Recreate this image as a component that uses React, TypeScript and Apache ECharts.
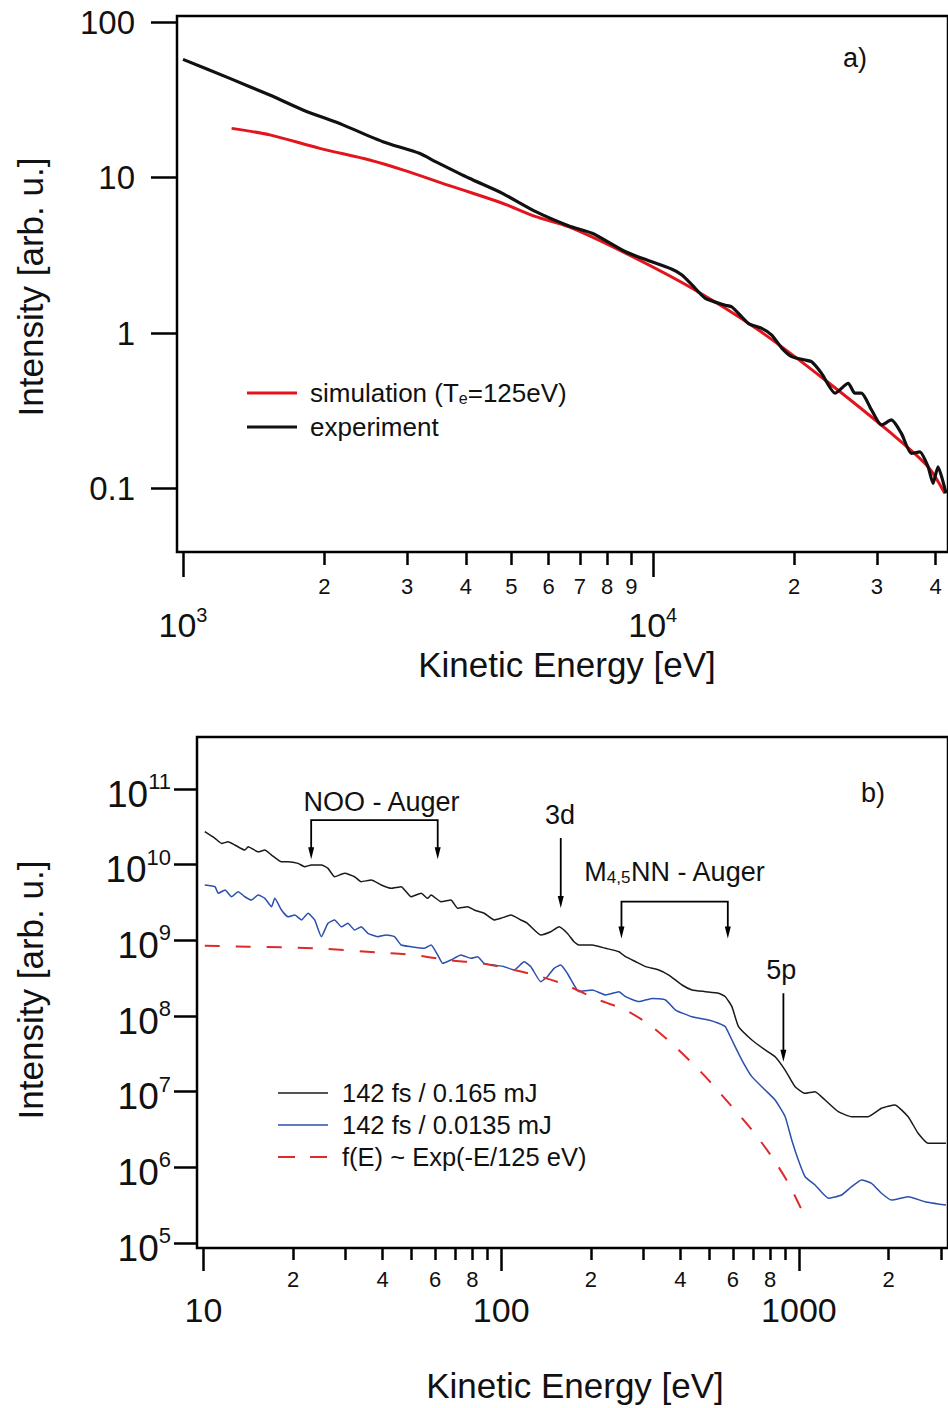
import React, { useEffect, useRef } from "react";
import * as echarts from "echarts";

const FONT = "'Liberation Sans', Arial, sans-serif";
const INK = "#111111";

// ---------- Panel a) ----------
const expEnergyA = [1000, 1258, 1530, 1800, 2189, 2663, 3186, 3456, 4068, 4786, 5636, 6633, 7431, 8750, 9490, 10990, 11540, 12120, 12940, 14270, 14740, 15470, 15990, 17060, 17920, 18820, 19760, 21100, 21790, 22880, 24440, 26070, 26930, 27810, 29220, 30680, 32210, 33830, 35520, 37020, 38550, 39500, 40480, 42100];
const expIntensityA = [57.5, 43.4, 33.9, 27.2, 21.8, 17.0, 14.3, 12.6, 9.88, 7.91, 6.03, 4.88, 4.38, 3.33, 3.02, 2.57, 2.36, 2.04, 1.67, 1.51, 1.47, 1.27, 1.15, 1.07, 0.97, 0.8, 0.705, 0.67, 0.653, 0.55, 0.41, 0.475, 0.41, 0.41, 0.32, 0.256, 0.276, 0.226, 0.168, 0.172, 0.138, 0.108, 0.138, 0.093];
const simEnergyA = [1269, 1530, 1954, 2495, 2936, 3749, 4786, 5636, 6633, 8750, 12120, 16790, 23270, 32210, 38550, 41830];
const simIntensityA = [20.7, 18.8, 15.4, 12.96, 11.2, 8.73, 6.83, 5.6, 4.81, 3.26, 1.94, 1.045, 0.499, 0.226, 0.138, 0.093];

const xMajorTicksA = [1000, 10000];
const xMajorExpA = ["3", "4"];
const xMinorTicksA = [2000, 3000, 4000, 5000, 6000, 7000, 8000, 9000, 20000, 30000, 40000];
const xMinorLabelsA = ["2", "3", "4", "5", "6", "7", "8", "9", "2", "3", "4"];
const yTicksA = [0.1, 1, 10, 100];
const yLabelsA = ["0.1", "1", "10", "100"];

// ---------- Panel b) ----------
const highEnergyB = [10.1, 10.93, 11.5, 12.1, 12.75, 13.77, 14.13, 15.26, 16.07, 16.93, 18.28, 19.23, 20.78, 21.88, 23.04, 24.89, 26.19, 27.57, 29.79, 32.17, 33.88, 36.6, 39.54, 42.7, 46.13, 49.83, 53.83, 56.6, 58.13, 62.8, 67.8, 71.4, 77.1, 81.2, 87.7, 94.7, 99.8, 107.8, 116.4, 122.5, 135.8, 146.7, 156.5, 166.7, 175.6, 182.4, 202.2, 224.3, 248.5, 261.7, 282.7, 305.3, 338.3, 365.5, 405, 437.5, 485, 537, 566, 595.6, 627, 695, 770.6, 832, 899, 971, 1049, 1133, 1224, 1356, 1503, 1709, 1894, 2100, 2328, 2514, 2716, 3119];
const highIntensityB = [2.73e10, 2.23e10, 1.91e10, 2.01e10, 1.82e10, 1.56e10, 1.73e10, 1.48e10, 1.56e10, 1.34e10, 1.09e10, 1.09e10, 1.04e10, 9.4e9, 9.9e9, 9.9e9, 8.95e9, 6.93e9, 7.69e9, 6.93e9, 5.96e9, 6.27e9, 5.39e9, 4.87e9, 5.11e9, 3.77e9, 4.19e9, 3.59e9, 3.97e9, 3.24e9, 3.41e9, 2.65e9, 2.78e9, 2.52e9, 2.28e9, 1.86e9, 1.96e9, 2.16e9, 1.86e9, 1.68e9, 1.18e9, 1.3e9, 1.51e9, 1.24e9, 9.59e8, 8.68e8, 8.68e8, 7.85e8, 7.08e8, 6.08e8, 5.22e8, 4.49e8, 4.06e8, 3.48e8, 2.57e8, 2.21e8, 2.1e8, 2.0e8, 1.8e8, 1.33e8, 7.22e7, 4.82e7, 3.56e7, 2.9e7, 1.93e7, 1.16e7, 9.52e6, 1.0e7, 7.76e6, 5.44e6, 4.67e6, 4.67e6, 6.03e6, 6.67e6, 4.67e6, 2.82e6, 2.08e6, 2.08e6];
const lowEnergyB = [10.1, 10.93, 11.21, 11.81, 12.43, 13.08, 13.77, 14.5, 15.26, 16.07, 16.93, 17.36, 18.28, 19.23, 20.26, 21.33, 22.45, 23.63, 24.89, 26.19, 27.57, 29.04, 30.55, 32.17, 33.88, 35.65, 38.5, 41.1, 43.8, 46.13, 49.83, 55.2, 58.13, 61.2, 63.6, 67.8, 73.3, 79.1, 83.3, 87.7, 94.7, 102.3, 110.6, 119.4, 125.8, 135.8, 142.9, 150.5, 158.5, 166.7, 175.6, 182.4, 202.2, 224.3, 248.5, 261.7, 290, 321, 356.3, 384.8, 437.5, 497.6, 537, 566, 595.6, 643.4, 695, 770.6, 832, 899, 946, 995.5, 1049, 1133, 1256, 1391, 1503, 1623, 1754, 1894, 2046, 2328, 2648, 3119];
const lowIntensityB = [5.39e9, 5.11e9, 4.19e9, 4.63e9, 3.77e9, 4.4e9, 3.77e9, 3.41e9, 3.97e9, 3.59e9, 2.78e9, 3.59e9, 2.52e9, 2.05e9, 2.16e9, 1.86e9, 2.28e9, 1.86e9, 1.12e9, 1.68e9, 1.86e9, 1.51e9, 1.68e9, 1.37e9, 1.51e9, 1.24e9, 1.12e9, 1.18e9, 1.12e9, 8.68e8, 8.24e8, 7.85e8, 8.68e8, 6.4e8, 4.97e8, 5.5e8, 6.4e8, 5.79e8, 6.08e8, 4.97e8, 4.72e8, 4.49e8, 4.06e8, 5.22e8, 4.49e8, 2.84e8, 3.31e8, 4.27e8, 4.72e8, 3.67e8, 2.57e8, 2.1e8, 2.21e8, 1.9e8, 2.1e8, 1.8e8, 1.55e8, 1.71e8, 1.63e8, 1.2e8, 9.79e7, 8.85e7, 8.01e7, 7.22e7, 4.82e7, 2.62e7, 1.58e7, 1.05e7, 7.76e6, 4.67e6, 2.3e6, 1.25e6, 7.52e5, 5.85e5, 3.9e5, 4.31e5, 5.55e5, 6.81e5, 6.15e5, 4.54e5, 3.7e5, 4.09e5, 3.52e5, 3.18e5];
const fitEnergyB = [10.1, 14.13, 23.63, 39.54, 51.1, 66.1, 85.5, 110.6, 135.8, 164.8, 212.9, 261.7, 321, 394.5, 485, 595.6, 695, 811, 922, 1022];
const fitIntensityB = [8.49e8, 8.24e8, 7.85e8, 6.87e8, 6.4e8, 5.5e8, 4.97e8, 4.06e8, 3.31e8, 2.57e8, 1.63e8, 1.2e8, 7.22e7, 3.56e7, 1.58e7, 6.33e6, 3.12e6, 1.38e6, 6.15e5, 2.73e5];

const xMajorTicksB = [10, 100, 1000];
const xMajorLabelsB = ["10", "100", "1000"];
const xMinorTicksB = [20, 30, 40, 50, 60, 70, 80, 90, 200, 300, 400, 500, 600, 700, 800, 900, 2000, 3000];
const xMinorLabelTicksB = [20, 40, 60, 80, 200, 400, 600, 800, 2000];
const xMinorLabelsB = ["2", "4", "6", "8", "2", "4", "6", "8", "2"];
const yTicksB = [1e5, 1e6, 1e7, 1e8, 1e9, 1e10, 1e11];
const yExpB = ["5", "6", "7", "8", "9", "10", "11"];

// annotation arrows / brackets (panel b): start energy, end energy, top intensity, tip intensity
const arrowStartE = [23.0, 253.5, 158.5, 887];
const arrowEndE = [61.2, 577, 158.5, 887];
const arrowTopI = [3.89e10, 3.24e9, 2.25e10, 2.0e8];
const arrowTipI = [1.18e10, 1.06e9, 2.68e9, 2.49e7];
const annotTexts = ["NOO - Auger", "M{sub|4,5}NN - Auger", "3d", "5p"];
const annotE = [39.6, 383, 157.6, 873];
const annotI = [6.73e10, 8.0e9, 4.53e10, 4.06e8];

const zip = (a: number[], b: number[]) => a.map((v, i) => [v, b[i]]);
const lookup = (ticks: number[], labels: string[]) => (v: number) => {
  const i = ticks.findIndex((t) => Math.abs(t - v) <= t * 1e-3);
  return i >= 0 ? labels[i] : "";
};

const tickLine = { color: "#000", width: 2.5 };

function logAxis(o: any) {
  return {
    type: "log",
    logBase: 10,
    splitLine: { show: false },
    minorTick: { show: false },
    axisLine: { show: false },
    ...o,
  };
}

export default function App() {
  const ref = useRef<HTMLDivElement>(null);
  useEffect(() => {
    const chart = echarts.init(ref.current!, null, { renderer: "svg" });
    const supRich = {
      b: { fontSize: 34, fontFamily: FONT, color: INK, lineHeight: 34, padding: [6, 0, 0, 0] },
      sup: { fontSize: 20, fontFamily: FONT, color: INK, lineHeight: 20, verticalAlign: "top" },
    };
    const supRichY = {
      b: { fontSize: 37, fontFamily: FONT, color: INK, lineHeight: 37, padding: [10, 0, 0, 0] },
      sup: { fontSize: 22, fontFamily: FONT, color: INK, lineHeight: 22, verticalAlign: "top" },
    };
    const option: any = {
      animation: false,
      backgroundColor: "#ffffff",
      grid: [
        { left: 177, top: 16, width: 773, height: 536, show: true, borderColor: "#000", borderWidth: 2.5, backgroundColor: "transparent" },
        { left: 197, top: 737, width: 753, height: 511, show: true, borderColor: "#000", borderWidth: 2.5, backgroundColor: "transparent" },
      ],
      xAxis: [
        logAxis({
          gridIndex: 0, position: "bottom", min: 971, max: 42510,
          axisTick: { show: true, inside: false, length: 25, lineStyle: tickLine, customValues: xMajorTicksA },
          axisLabel: {
            customValues: xMajorTicksA, margin: 53, rich: supRich,
            formatter: (v: number) => `{b|10}{sup|${lookup(xMajorTicksA, xMajorExpA)(v)}}`,
          },
        }),
        logAxis({
          gridIndex: 0, position: "bottom", min: 971, max: 42510,
          axisTick: { show: true, inside: false, length: 13, lineStyle: tickLine, customValues: xMinorTicksA },
          axisLabel: {
            customValues: xMinorTicksA, margin: 23, fontSize: 22, fontFamily: FONT, color: INK,
            formatter: lookup(xMinorTicksA, xMinorLabelsA),
          },
        }),
        logAxis({
          gridIndex: 1, position: "bottom", min: 9.511, max: 3168,
          axisTick: { show: true, inside: false, length: 23, lineStyle: tickLine, customValues: xMajorTicksB },
          axisLabel: {
            customValues: xMajorTicksB, margin: 45, fontSize: 34, fontFamily: FONT, color: INK,
            formatter: lookup(xMajorTicksB, xMajorLabelsB),
          },
        }),
        logAxis({
          gridIndex: 1, position: "bottom", min: 9.511, max: 3168,
          axisTick: { show: true, inside: false, length: 12, lineStyle: tickLine, customValues: xMinorTicksB },
          axisLabel: {
            customValues: xMinorLabelTicksB, margin: 20, fontSize: 22, fontFamily: FONT, color: INK,
            formatter: lookup(xMinorLabelTicksB, xMinorLabelsB),
          },
        }),
      ],
      yAxis: [
        logAxis({
          gridIndex: 0, position: "left", min: 0.03905, max: 109.3,
          axisTick: { show: true, inside: false, length: 26, lineStyle: tickLine, customValues: yTicksA },
          axisLabel: {
            customValues: yTicksA, margin: 42, fontSize: 33, fontFamily: FONT, color: INK,
            formatter: lookup(yTicksA, yLabelsA),
          },
        }),
        logAxis({
          gridIndex: 1, position: "left", min: 8.59e4, max: 4.87e11,
          axisTick: { show: true, inside: false, length: 23, lineStyle: tickLine, customValues: yTicksB },
          axisLabel: {
            customValues: yTicksB, margin: 26, rich: supRichY,
            formatter: (v: number) => `{b|10}{sup|${lookup(yTicksB, yExpB)(v)}}`,
          },
        }),
      ],
      series: [
        {
          name: "simulation", type: "line", xAxisIndex: 0, yAxisIndex: 0, symbol: "none", smooth: 0.3,
          data: zip(simEnergyA, simIntensityA), lineStyle: { color: "#e3141e", width: 3 }, silent: true,
        },
        {
          name: "experiment", type: "line", xAxisIndex: 0, yAxisIndex: 0, symbol: "none", smooth: 0.2,
          data: zip(expEnergyA, expIntensityA), lineStyle: { color: "#111", width: 3.2 }, silent: true,
        },
        {
          name: "142 fs / 0.165 mJ", type: "line", xAxisIndex: 2, yAxisIndex: 1, symbol: "none", smooth: 0.15,
          data: zip(highEnergyB, highIntensityB), lineStyle: { color: "#1a1a1a", width: 1.5 }, silent: true,
        },
        {
          name: "142 fs / 0.0135 mJ", type: "line", xAxisIndex: 2, yAxisIndex: 1, symbol: "none", smooth: 0.15,
          data: zip(lowEnergyB, lowIntensityB), lineStyle: { color: "#2b4fae", width: 1.5 }, silent: true,
        },
        {
          name: "f(E) ~ Exp(-E/125 eV)", type: "line", xAxisIndex: 2, yAxisIndex: 1, symbol: "none", smooth: 0.3,
          data: zip(fitEnergyB, fitIntensityB), lineStyle: { color: "#dd2a2a", width: 2, type: [15, 16] }, silent: true,
        },
        {
          type: "custom", xAxisIndex: 2, yAxisIndex: 1, silent: true,
          encode: { x: [0, 1], y: [2, 3] },
          data: arrowStartE.map((e, i) => [e, arrowEndE[i], arrowTopI[i], arrowTipI[i]]),
          renderItem: (_p: any, api: any) => {
            const x1 = api.value(0), x2 = api.value(1), yt = api.value(2), yp = api.value(3);
            const a = api.coord([x1, yt]);
            const aTip = api.coord([x1, yp]);
            const b = api.coord([x2, yt]);
            const bTip = api.coord([x2, yp]);
            const head = (p: number[]) => ({
              type: "polygon",
              shape: { points: [[p[0] - 3, p[1] - 12], [p[0] + 3, p[1] - 12], [p[0], p[1]]] },
              style: { fill: "#000" },
            });
            const lineStyle = { stroke: "#000", lineWidth: 1.8, fill: "none" };
            if (Math.abs(x1 - x2) < 1e-9) {
              return {
                type: "group",
                children: [
                  { type: "line", shape: { x1: a[0], y1: a[1], x2: aTip[0], y2: aTip[1] - 8 }, style: lineStyle },
                  head(aTip),
                ],
              };
            }
            return {
              type: "group",
              children: [
                {
                  type: "polyline",
                  shape: { points: [[aTip[0], aTip[1] - 8], a, b, [bTip[0], bTip[1] - 8]] },
                  style: lineStyle,
                },
                head(aTip),
                head(bTip),
              ],
            };
          },
        },
        {
          type: "custom", xAxisIndex: 2, yAxisIndex: 1, silent: true,
          data: annotE.map((e, i) => [e, annotI[i], i]),
          renderItem: (_p: any, api: any) => {
            const p = api.coord([api.value(0), api.value(1)]);
            const idx = api.value(2);
            return {
              type: "text",
              x: p[0],
              y: p[1],
              style: {
                text: annotTexts[idx],
                fontSize: 27,
                fontFamily: FONT,
                fill: INK,
                align: "center",
                verticalAlign: "middle",
                rich: {
                  sub: { fontSize: 17, fontFamily: FONT, fill: INK, lineHeight: 17, verticalAlign: "bottom" },
                },
              },
            };
          },
        },
      ],
      graphic: [
        // axis titles
        { type: "text", x: 567, y: 664, style: { text: "Kinetic Energy [eV]", fontSize: 35, fontFamily: FONT, fill: INK, align: "center", verticalAlign: "middle" } },
        { type: "text", x: 575, y: 1385, style: { text: "Kinetic Energy [eV]", fontSize: 35, fontFamily: FONT, fill: INK, align: "center", verticalAlign: "middle" } },
        { type: "text", x: 30, y: 287, rotation: Math.PI / 2, style: { text: "Intensity [arb. u.]", fontSize: 35, fontFamily: FONT, fill: INK, align: "center", verticalAlign: "middle" } },
        { type: "text", x: 30, y: 990, rotation: Math.PI / 2, style: { text: "Intensity [arb. u.]", fontSize: 35, fontFamily: FONT, fill: INK, align: "center", verticalAlign: "middle" } },
        // panel letters
        { type: "text", x: 855, y: 58, style: { text: "a)", fontSize: 27, fontFamily: FONT, fill: INK, align: "center", verticalAlign: "middle" } },
        { type: "text", x: 873, y: 793, style: { text: "b)", fontSize: 27, fontFamily: FONT, fill: INK, align: "center", verticalAlign: "middle" } },
        // legend a
        { type: "line", shape: { x1: 247, y1: 393, x2: 297, y2: 393 }, style: { stroke: "#e3141e", lineWidth: 3 } },
        {
          type: "text", x: 310, y: 393,
          style: {
            text: "simulation (T{sub|e}=125eV)", fontSize: 26, fontFamily: FONT, fill: INK, align: "left", verticalAlign: "middle",
            rich: { sub: { fontSize: 16, fontFamily: FONT, fill: INK, lineHeight: 16, verticalAlign: "bottom" } },
          },
        },
        { type: "line", shape: { x1: 247, y1: 427, x2: 297, y2: 427 }, style: { stroke: "#111", lineWidth: 3.2 } },
        { type: "text", x: 310, y: 427, style: { text: "experiment", fontSize: 26, fontFamily: FONT, fill: INK, align: "left", verticalAlign: "middle" } },
        // legend b
        { type: "line", shape: { x1: 278, y1: 1093, x2: 328, y2: 1093 }, style: { stroke: "#1a1a1a", lineWidth: 1.5 } },
        { type: "text", x: 342, y: 1093, style: { text: "142 fs / 0.165 mJ", fontSize: 25.5, fontFamily: FONT, fill: INK, align: "left", verticalAlign: "middle" } },
        { type: "line", shape: { x1: 278, y1: 1125, x2: 328, y2: 1125 }, style: { stroke: "#2b4fae", lineWidth: 1.5 } },
        { type: "text", x: 342, y: 1125, style: { text: "142 fs / 0.0135 mJ", fontSize: 25.5, fontFamily: FONT, fill: INK, align: "left", verticalAlign: "middle" } },
        { type: "line", shape: { x1: 278, y1: 1157, x2: 328, y2: 1157 }, style: { stroke: "#dd2a2a", lineWidth: 2, lineDash: [17, 15] } },
        { type: "text", x: 342, y: 1157, style: { text: "f(E) ~ Exp(-E/125 eV)", fontSize: 25.5, fontFamily: FONT, fill: INK, align: "left", verticalAlign: "middle" } },
      ],
    };
    chart.setOption(option);
    return () => chart.dispose();
  }, []);
  return (
    <div
      ref={ref}
      style={{ position: "absolute", left: 0, top: 0, width: 948, height: 1408, background: "#ffffff" }}
    />
  );
}
